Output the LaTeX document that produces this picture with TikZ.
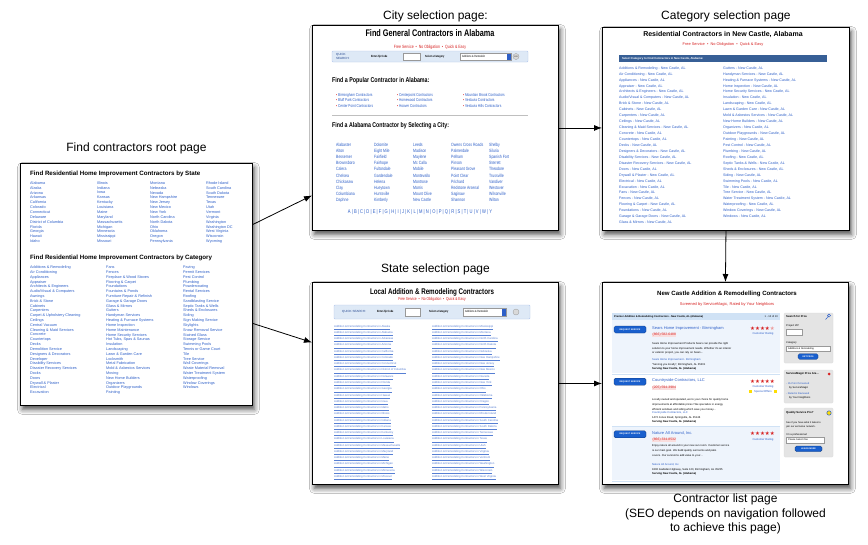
\documentclass[tikz,border=0pt]{standalone}
\usepackage{fontspec}
\setmainfont{Liberation Sans}
\newfontfamily\narrowfont{Liberation Sans}[FakeStretch=0.76]
\newfontfamily\symbfont{DejaVu Sans}
\usetikzlibrary{arrows.meta,positioning,shadows.blur}
\definecolor{linkblue}{RGB}{45,95,200}
\definecolor{redtxt}{RGB}{215,35,35}
\definecolor{barblue}{RGB}{55,95,150}
\definecolor{searchbg}{RGB}{222,233,246}
\definecolor{listbg}{RGB}{238,244,252}
\definecolor{headbg}{RGB}{208,226,245}
\definecolor{sidegray}{RGB}{228,228,228}
\definecolor{btnblue}{RGB}{25,95,205}
\newcommand\tsz[1]{\fontsize{#1}{#1}\selectfont}
\begin{document}
\begin{tikzpicture}[x=1pt,y=-1pt,
 page/.style={draw,line width=0.9pt,fill=white,inner sep=0,anchor=north west,
  blur shadow={shadow xshift=2pt,shadow yshift=-4pt,shadow blur radius=5pt,shadow opacity=70}},
 pagelbl/.style={inner sep=0,font=\tsz{12}},
 arr/.style={-{Latex[length=8pt,width=6pt]},line width=0.8pt},
 txt/.style={anchor=west,inner sep=0,execute at begin node={\vphantom{Ag}}},
 para/.style={anchor=west,inner sep=0,align=left},
 lnk/.style={txt,text=linkblue},
 redline/.style={inner sep=0,text=redtxt},
 searchbar/.style={draw=linkblue!35,fill=searchbg,rounded corners=1pt,line width=0.4pt},
 field/.style={draw=black!40,fill=white,line width=0.3pt},
 sidebox/.style={fill=sidegray,draw=black!15,rounded corners=1pt,line width=0.3pt},
 btn/.style={fill=btnblue,draw=btnblue!60!black,rounded corners=1.5pt,line width=0.3pt,
  text=white,inner sep=0,font=\bfseries\tsz{2.2}}]
\fill[white] (0,0) rectangle (868,544);
\useasboundingbox (0,0) rectangle (868,544);

\node[page,minimum width=232pt,minimum height=242pt] (root) at (20,163) {};
\node[page,minimum width=246pt,minimum height=205pt] (city) at (312,25) {};
\node[page,minimum width=247pt,minimum height=203pt] (category) at (602,27) {};
\node[page,minimum width=246pt,minimum height=202pt] (state) at (312,282) {};
\node[page,minimum width=246pt,minimum height=202pt] (listpage) at (602,282) {};

\node[pagelbl,above=9pt of root] (rootlbl) {Find contractors root page};
\node[pagelbl,above=2.5pt of city] (citylbl) {City selection page:};
\node[pagelbl,above=5pt of category] (catlbl) {Category selection page};
\node[pagelbl,above=6.5pt of state] (statelbl) {State selection page};
\node[pagelbl,align=center,below=9pt of listpage,font=\fontsize{12}{14.5}\selectfont] (listlbl)
 {Contractor list page\\(SEO depends on navigation followed\\to achieve this page)};

\draw[arr] ([yshift=60pt]root.east) -- ([yshift=-67.5pt]city.west);
\draw[arr] ([yshift=-39pt]root.east) -- ([yshift=41pt]state.west);
\draw[arr] (city.east) -- (city.east -| category.west);
\draw[arr] (category.south) -- (listpage.north);
\draw[arr] (state.east) -- (listpage.west);

% root page
\node[txt,font=\bfseries\tsz{6.2}] at (30,174) {Find Residential Home Improvement Contractors by State};
\foreach \s [count=\i from 0] in {Alabama,Alaska,Arizona,Arkansas,California,Colorado,Connecticut,Delaware,District of Columbia,Florida,Georgia,Hawaii,Idaho}
 \node[lnk,font=\tsz{3.8}] at (30,{183.3+4.86*\i}) {\s};
\foreach \s [count=\i from 0] in {Illinois,Indiana,Iowa,Kansas,Kentucky,Louisiana,Maine,Maryland,Massachusetts,Michigan,Minnesota,Mississippi,Missouri}
 \node[lnk,font=\tsz{3.8}] at (97,{183.3+4.86*\i}) {\s};
\foreach \s [count=\i from 0] in {Montana,Nebraska,Nevada,New Hampshire,New Jersey,New Mexico,New York,North Carolina,North Dakota,Ohio,Oklahoma,Oregon,Pennsylvania}
 \node[lnk,font=\tsz{3.8}] at (150,{183.3+4.86*\i}) {\s};
\foreach \s [count=\i from 0] in {Rhode Island,South Carolina,South Dakota,Tennessee,Texas,Utah,Vermont,Virginia,Washington,Washington DC,West Virginia,Wisconsin,Wyoming}
 \node[lnk,font=\tsz{3.8}] at (206,{183.3+4.86*\i}) {\s};
\node[txt,font=\bfseries\tsz{6.2}] at (30,257.5) {Find Residential Home Improvement Contractors by Category};
\foreach \s [count=\i from 0] in {Additions \& Remodeling,Air Conditioning,Appliances,Appraiser,Architects \& Engineers,Audio/Visual \& Computers,Awnings,Brick \& Stone,Cabinets,Carpenters,Carpet \& Upholstery Cleaning,Ceilings,Central Vacuum,Cleaning \& Maid Services,Concrete,Countertops,Decks,Demolition Service,Designers \& Decorators,Developer,Disability Services,Disaster Recovery Services,Docks,Doors,Drywall \& Plaster,Electrical,Excavation}
 \node[lnk,font=\tsz{3.8}] at (30,{267.7+4.81*\i}) {\s};
\foreach \s [count=\i from 0] in {Fans,Fences,Fireplace \& Wood Stoves,Flooring \& Carpet,Foundations,Fountains \& Ponds,Furniture Repair \& Refinish,Garage \& Garage Doors,Glass \& Mirrors,Gutters,Handyman Services,Heating \& Furnace Systems,Home Inspection,Home Maintenance,Home Security Services,{Hot Tubs, Spas \& Saunas},Insulation,Landscaping,Lawn \& Garden Care,Locksmith,Metal Fabrication,Mold \& Asbestos Services,Moving,New Home Builders,Organizers,Outdoor Playgrounds,Painting}
 \node[lnk,font=\tsz{3.8}] at (106,{267.7+4.81*\i}) {\s};
\foreach \s [count=\i from 0] in {Paving,Permit Services,Pest Control,Plumbing,Powdercoating,Rental Services,Roofing,Sandblasting Service,Septic Tanks \& Wells,Sheds \& Enclosures,Siding,Sign Making Service,Skylights,Snow Removal Service,Stained Glass,Storage Service,Swimming Pools,Tennis or Game Court,Tile,Tree Service,Wall Coverings,Waste Material Removal,Water Treatment System,Waterproofing,Window Coverings,Windows}
 \node[lnk,font=\tsz{3.8}] at (183,{267.7+4.81*\i}) {\s};

% city page
\node[inner sep=0,font=\narrowfont\bfseries\tsz{9.6}] at (430,33) {Find General Contractors in Alabama};
\node[redline,font=\narrowfont\tsz{4.6}] at (430,47) {Free Service \ \textbullet\ \ No Obligation \ \textbullet\ \ Quick \& Easy};
\draw[searchbar] (332,51) rectangle (528,62);
\node[para,text=linkblue!70!black,font=\fontsize{3}{3.8}\selectfont] at (336,56.5) {QUICK\\SEARCH:};
\node[txt,font=\narrowfont\bfseries\tsz{3}] at (371,56.5) {Enter Zip Code};
\draw[field] (403,53) rectangle (420,60);
\node[txt,font=\narrowfont\bfseries\tsz{3}] at (425,56.5) {Select a Category};
\draw[field] (460,53) rectangle (511,60);
\node[txt,font=\narrowfont\tsz{3}] at (462,56.5) {Additions \& Remodelin};
\fill[linkblue] (507,53.5) rectangle (510.5,59.5);
\draw[field,fill=black!15] (516,56.5) circle (3);
\node[inner sep=0,font=\tsz{2}] at (516,56.5) {GO};
\node[txt,font=\narrowfont\bfseries\tsz{7}] at (332,81) {Find a Popular Contractor in Alabama:};
\foreach \s [count=\i from 0] in {Birmingham Contractors,Bluff Park Contractors,Center Point Contractors}
 \node[lnk,font=\narrowfont\tsz{4.2}] at (336,{95+5.8*\i}) {\textcolor{redtxt}{\textbullet}\,\s};
\foreach \s [count=\i from 0] in {Centerpoint Contractors,Homewood Contractors,Hoover Contractors}
 \node[lnk,font=\narrowfont\tsz{4.2}] at (397,{95+5.8*\i}) {\textcolor{redtxt}{\textbullet}\,\s};
\foreach \s [count=\i from 0] in {Mountain Brook Contractors,Vestavia Contractors,Vestavia Hills Contractors}
 \node[lnk,font=\narrowfont\tsz{4.2}] at (463,{95+5.8*\i}) {\textcolor{redtxt}{\textbullet}\,\s};
\draw[black!25,line width=0.6pt] (332,115) -- (528,115);
\node[txt,font=\narrowfont\bfseries\tsz{6.9}] at (332,126) {Find a Alabama Contractor by Selecting a City:};
\foreach \s [count=\i from 0] in {Alabaster,Alton,Bessemer,Brownsboro,Calera,Chelsea,Chickasaw,Clay,Columbiana,Daphne}
 \node[lnk,font=\narrowfont\tsz{4.6}] at (336,{145+6.2*\i}) {\s};
\foreach \s [count=\i from 0] in {Dolomite,Eight Mile,Fairfield,Fairhope,Fultondale,Gardendale,Helena,Hueytown,Huntsville,Kimberly}
 \node[lnk,font=\narrowfont\tsz{4.6}] at (374,{145+6.2*\i}) {\s};
\foreach \s [count=\i from 0] in {Leeds,Madison,Maylene,Mc Calla,Mobile,Montevallo,Montrose,Morris,Mount Olive,New Castle}
 \node[lnk,font=\narrowfont\tsz{4.6}] at (413,{145+6.2*\i}) {\s};
\foreach \s [count=\i from 0] in {Owens Cross Roads,Palmerdale,Pelham,Pinson,Pleasant Grove,Point Clear,Prichard,Redstone Arsenal,Saginaw,Shannon}
 \node[lnk,font=\narrowfont\tsz{4.6}] at (451,{145+6.2*\i}) {\s};
\foreach \s [count=\i from 0] in {Shelby,Siluria,Spanish Fort,Sterrett,Theodore,Trussville,Vandiver,Westover,Wilsonville,Wilton}
 \node[lnk,font=\narrowfont\tsz{4.6}] at (489,{145+6.2*\i}) {\s};
\node[inner sep=0,text=linkblue,font=\narrowfont\tsz{5.4}] at (420,212) {A | B | C | D | E | F | G | H | I | J | K | L | M | N | O | P | Q | R | S | T | U | V | W | Y};

% category page
\node[inner sep=0,font=\bfseries\tsz{7}] at (723,35) {Residential Contractors in New Castle, Alabama};
\node[redline,font=\tsz{3.9}] at (723,44) {Free Service \ \textbullet\ \ No Obligation \ \textbullet\ \ Quick \& Easy};
\fill[barblue] (619,55) rectangle (827,62);
\node[txt,text=white,font=\bfseries\tsz{2.8}] at (622,58.5) {Select Category to Find Contractors in New Castle, Alabama:};
\foreach \s [count=\i from 0] in {Additions \& Remodeling,Air Conditioning,Appliances,Appraiser,Architects \& Engineers,Audio/Visual \& Computers,Brick \& Stone,Cabinets,Carpenters,Ceilings,Cleaning \& Maid Services,Concrete,Countertops,Decks,Designers \& Decorators,Disability Services,Disaster Recovery Services,Doors,Drywall \& Plaster,Electrical,Excavation,Fans,Fences,Flooring \& Carpet,Foundations,Garage \& Garage Doors,Glass \& Mirrors}
 \node[lnk,font=\tsz{3.6}] at (619,{68.3+5.94*\i}) {\s\ - New Castle, AL};
\foreach \s [count=\i from 0] in {Gutters,Handyman Services,Heating \& Furnace Systems,Home Inspection,Home Security Services,Insulation,Landscaping,Lawn \& Garden Care,Mold \& Asbestos Services,New Home Builders,Organizers,Outdoor Playgrounds,Painting,Pest Control,Plumbing,Roofing,Septic Tanks \& Wells,Sheds \& Enclosures,Siding,Swimming Pools,Tile,Tree Service,Water Treatment System,Waterproofing,Window Coverings,Windows}
 \node[lnk,font=\tsz{3.6}] at (723,{68.3+5.94*\i}) {\s\ - New Castle, AL};

% state page
\node[inner sep=0,font=\narrowfont\bfseries\tsz{8.2}] at (432,292) {Local Addition \& Remodeling Contractors};
\node[redline,font=\narrowfont\tsz{4.3}] at (432,299) {Free Service \ \textbullet\ \ No Obligation \ \textbullet\ \ Quick \& Easy};
\draw[searchbar] (334,305) rectangle (530,319);
\node[txt,text=linkblue!70!black,font=\tsz{3}] at (342,312) {QUICK SEARCH:};
\node[txt,font=\narrowfont\bfseries\tsz{3}] at (377,312) {Enter Zip Code};
\draw[field] (405,308) rectangle (420,316);
\node[txt,font=\narrowfont\bfseries\tsz{3}] at (429,312) {Select a Category};
\draw[field] (463,308) rectangle (506,316);
\node[txt,font=\narrowfont\tsz{3}] at (465,312) {Additions \& Remodelin};
\fill[linkblue] (502,308.5) rectangle (505.5,315.5);
\draw[field,fill=black!15] (516,312) circle (3);
\foreach \s [count=\i from 0] in {Alaska,Alabama,Arkansas,Arizona,California,Colorado,Connecticut,District of Columbia,Delaware,Florida,Georgia,Hawaii,Iowa,Idaho,Illinois,Indiana,Kansas,Kentucky,Louisiana,Massachusetts,Maryland,Maine,Michigan,Minnesota,Missouri}
 \node[lnk,text=linkblue!80,font=\tsz{2.8}] at (334,{327.3+6.27*\i}) {\underline{Addition \& Remodeling Contractors in \s}};
\foreach \s [count=\i from 0] in {Mississippi,Montana,North Carolina,North Dakota,Nebraska,New Hampshire,New Jersey,New Mexico,Nevada,New York,Ohio,Oklahoma,Oregon,Pennsylvania,Rhode Island,South Carolina,South Dakota,Tennessee,Texas,Utah,Virginia,Vermont,Washington,Wisconsin,West Virginia}
 \node[lnk,text=linkblue!80,font=\tsz{2.8}] at (432,{327.3+6.27*\i}) {\underline{Addition \& Remodeling Contractors in \s}};

% contractor list page
\node[inner sep=0,font=\bfseries\tsz{6.1}] at (727,294) {New Castle Addition \& Remodelling Contractors};
\node[redline,font=\tsz{4}] at (727,304) {Screened by ServiceMagic, Rated by Your Neighbors};
\fill[headbg] (612,313) rectangle (780,320);
\node[txt,font=\bfseries\tsz{2.6}] at (614,316.5) {Premier Addition \& Remodeling Contractors - New Castle, AL (Alabama)};
\node[inner sep=0,anchor=east,font=\tsz{2.6}] at (778,316.5) {1 - 10 of 10};
\fill[listbg] (612,320) rectangle (780,373);
\draw[headbg,line width=1pt] (612,374) -- (780,374);
\fill[listbg] (612,427) rectangle (780,480);
\draw[headbg,line width=1pt] (612,426) -- (780,426);
\draw[headbg,line width=1pt] (612,481) -- (780,481);
\foreach \y in {329.5,381.7,434.3}
 \node[btn,minimum width=32pt,minimum height=7pt] at (630,\y) {REQUEST SERVICE};
\node[lnk,font=\tsz{4}] at (652,328) {Sears Home Improvement - Birmingham};
\node[txt,text=redtxt,fill=redtxt!15,inner sep=0.5pt,font=\tsz{3.4}] at (652,335) {(866) 582-6488};
\node[para,font=\fontsize{2.7}{4.4}\selectfont] at (652,348.5) {Sears Home Improvement Products Sears can provide the right\\solution to your home improvement needs. Whether it's an interior\\or exterior project, you can rely on Sears...};
\node[lnk,font=\tsz{2.7}] at (652,360) {Sears Home Improvement - Birmingham};
\node[txt,font=\tsz{2.7}] at (652,364.3) {"Serving you locally", Birmingham, AL 35201};
\node[txt,font=\bfseries\tsz{2.7}] at (652,369) {Serving New Castle, AL (Alabama)};
\node[txt,font=\symbfont\tsz{5.5}] at (750,329) {\textcolor{redtxt}{★★★★}\textcolor{redtxt!45}{★}};
\node[inner sep=0,text=linkblue,font=\tsz{2.8}] at (763,334) {Customer Rating};
\node[lnk,font=\tsz{4}] at (652,380.7) {Countryside Contractors, LLC};
\node[txt,text=redtxt,fill=redtxt!15,inner sep=0.5pt,font=\tsz{3.4}] at (652,387.7) {(205) 594-3984};
\node[para,font=\fontsize{2.7}{4.6}\selectfont] at (652,404.7) {Locally owned and operated, we're your choice for quality home\\improvements at affordable prices! We specialize in energy\\efficient windows and siding which save you money...};
\node[lnk,font=\tsz{2.7}] at (652,412.7) {Countryside Contractors, LLC};
\node[txt,font=\tsz{2.7}] at (652,417.3) {1472 Jones Road, Springville, AL 35146};
\node[txt,font=\bfseries\tsz{2.7}] at (652,422) {Serving New Castle, AL (Alabama)};
\node[txt,text=redtxt,font=\symbfont\tsz{5.5}] at (750,381.7) {★★★★★};
\node[inner sep=0,text=linkblue,font=\tsz{2.8}] at (763,386.3) {Customer Rating};
\fill[yellow!80!orange] (749,390.3) rectangle (751.5,393);
\fill[yellow!80!orange] (774,390.3) rectangle (776.5,393);
\node[inner sep=0,text=linkblue,font=\tsz{2.8}] at (763,391.7) {Special Offers};
\node[lnk,font=\tsz{4}] at (652,433.3) {Nature All Around, Inc.};
\node[txt,text=redtxt,fill=redtxt!15,inner sep=0.5pt,font=\tsz{3.4}] at (652,440) {(866) 334-8532};
\node[para,font=\fontsize{2.7}{4.8}\selectfont] at (652,451) {Enjoy nature all around in your new sun room. Customer service\\is our main goal. We build quality sunrooms and patio\\covers. Our sunrooms add value to your...};
\node[lnk,font=\tsz{2.7}] at (652,465) {Nature All Around, Inc.};
\node[txt,font=\tsz{2.7}] at (652,469.3) {1806 Gadsden Highway, Suite 120, Birmingham, AL 35235};
\node[txt,font=\bfseries\tsz{2.7}] at (652,474) {Serving New Castle, AL (Alabama)};
\node[txt,text=redtxt,font=\symbfont\tsz{5.5}] at (750,434.3) {★★★★★};
\node[inner sep=0,text=linkblue,font=\tsz{2.8}] at (763,439.3) {Customer Rating};
\draw[sidebox] (784,313) rectangle (833,363);
\node[txt,font=\bfseries\tsz{2.8}] at (786,316.5) {Search for Pros};
\draw[linkblue,line width=0.5pt] (829,315.5) circle (1.6) (828,316.8) -- (825.5,319.5);
\node[txt,font=\tsz{2.6}] at (786,326) {Project ZIP};
\draw[field] (786,329) rectangle (802,335);
\node[txt,font=\tsz{2.6}] at (786,342.5) {Category};
\draw[field] (786,346) rectangle (830,351);
\node[txt,font=\tsz{2.4}] at (788,348.5) {Additions \& Remodeling};
\node[btn,minimum width=20pt,minimum height=5.5pt] at (808,356.5) {GET PROS};
\draw[sidebox] (784,370) rectangle (833,403);
\node[txt,font=\bfseries\tsz{2.8}] at (786,374) {ServiceMagic Pros Are...};
\fill[redtxt] (829,374) circle (1.5);
\node[lnk,font=\tsz{2.6}] at (786,384) {- 16-Point Screened};
\node[txt,font=\tsz{2.6}] at (789,388) {by ServiceMagic};
\node[lnk,font=\tsz{2.6}] at (786,394) {- Rated \& Reviewed};
\node[txt,font=\tsz{2.6}] at (789,398) {by Your Neighbors};
\draw[sidebox] (784,408) rectangle (833,457);
\node[txt,font=\bfseries\tsz{2.8}] at (786,413) {Quality Service Pro?};
\draw[fill=yellow!80!orange,draw=linkblue,line width=0.5pt] (829,413) circle (2.2);
\node[para,font=\fontsize{2.5}{4}\selectfont] at (786,424.5) {See if you have what it takes to\\join our exclusive network.};
\node[txt,font=\tsz{2.6}] at (786,435) {I'm a professional:};
\draw[field] (786,437.5) rectangle (824,443);
\node[txt,font=\tsz{2.4}] at (788,440.3) {Please Select One};
\node[btn,minimum width=27pt,minimum height=5.5pt] at (808.5,448.8) {LEARN MORE};
\end{tikzpicture}
\end{document}
